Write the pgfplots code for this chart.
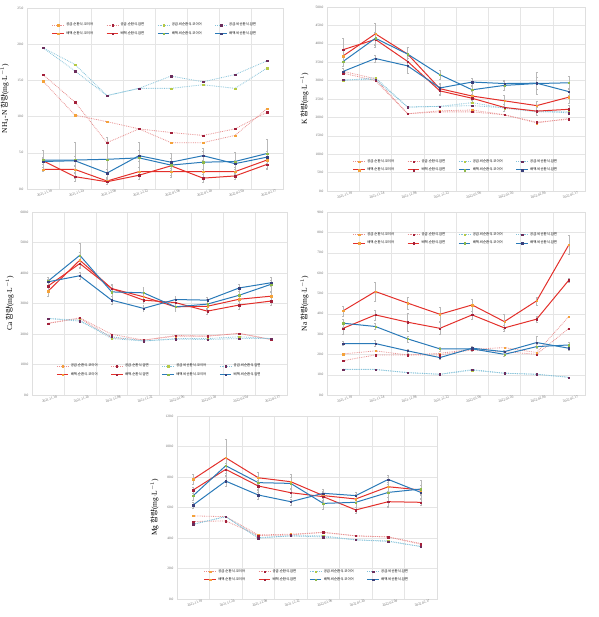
\documentclass[border=0pt]{standalone}
\usepackage{fontspec}
\setmainfont{Liberation Serif}
\newfontfamily\cjk{Noto Sans CJK KR}
\usepackage{pgfplots}
\pgfplotsset{compat=1.18}

\definecolor{cOrange}{HTML}{F4A23A}
\definecolor{cDark}{HTML}{A3203A}
\definecolor{cYG}{HTML}{B5C944}
\definecolor{cPur}{HTML}{6B2D5C}
\definecolor{cSalmon}{HTML}{E89090}
\definecolor{cLBlue}{HTML}{86C3DA}
\definecolor{cRed}{HTML}{E3302B}
\definecolor{cBlue}{HTML}{2A7AB8}
\definecolor{cGreen}{HTML}{8DB94A}
\definecolor{cNavy}{HTML}{3A3F7A}

\pgfplotsset{
  eb/.style={/pgfplots/error bars/y dir=both, /pgfplots/error bars/y explicit,
    /pgfplots/error bars/error bar style={gray!55, line width=0.3pt, solid},
    /pgfplots/error bars/error mark options={rotate=90, mark size=0.9pt, gray!55, line width=0.3pt}},
  s1/.style={cSalmon, densely dotted, line width=0.8pt, mark=square*, mark size=0.7pt, mark options={solid, line width=0.2pt, fill=cOrange, draw=cOrange}},
  s2/.style={cSalmon, densely dotted, line width=0.8pt, mark=square*, mark size=0.7pt, mark options={solid, line width=0.2pt, fill=cDark, draw=cDark}},
  s3/.style={cLBlue, densely dotted, line width=0.8pt, mark=square*, mark size=0.7pt, mark options={solid, line width=0.2pt, fill=cYG, draw=cYG}},
  s4/.style={cLBlue, densely dotted, line width=0.8pt, mark=square*, mark size=0.7pt, mark options={solid, line width=0.2pt, fill=cPur, draw=cPur}},
  d1/.style={cRed, solid, line width=1pt, mark=square*, mark size=0.7pt, mark options={solid, line width=0.2pt, fill=cOrange, draw=cOrange}, eb},
  d2/.style={cRed, solid, line width=1pt, mark=square*, mark size=0.7pt, mark options={solid, line width=0.2pt, fill=cDark, draw=cDark}, eb},
  d3/.style={cBlue, solid, line width=1pt, mark=square*, mark size=0.7pt, mark options={solid, line width=0.2pt, fill=cGreen, draw=cGreen}, eb},
  d4/.style={cBlue, solid, line width=1pt, mark=square*, mark size=0.7pt, mark options={solid, line width=0.2pt, fill=cNavy, draw=cNavy}, eb},
  panel/.style={
    scale only axis, anchor=south west,
    xmin=-0.5, xmax=7.5, ymin=0,
    xtick={0,...,7},
    xticklabels={2021.11.10,2021.11.24,2021.12.08,2021.12.22,2022.01.06,2022.01.20,2022.02.04,2022.02.17},
    minor xtick={-0.5,0.5,...,7.5},
    xminorgrids=true, ymajorgrids=true,
    grid style={gray!20, line width=0.3pt},
    minor grid style={gray!20, line width=0.3pt},
    axis line style={gray!25, line width=0.3pt},
    major tick length=0pt, minor tick length=0pt,
    tick label style={font=\fontsize{3.5}{4}\selectfont, text=gray!80!black},
    xticklabel style={rotate=20, anchor=center, yshift=-4.5pt},
    yticklabel style={/pgf/number format/.cd, fixed, fixed zerofill, precision=1},
    /pgf/number format/assume math mode=true,
    legend columns=4,
    legend cell align=left,
    legend image code/.code={\draw[mark repeat=2,mark phase=2] plot coordinates {(0cm,0cm) (0.2cm,0cm) (0.4cm,0cm)};},
    legend style={draw=none, fill=none, font=\cjk\fontsize{3.4}{4.4}\selectfont,
      /tikz/every even column/.append style={column sep=11pt}},
    ylabel style={font=\fontsize{7.5}{9}\selectfont, at={(axis description cs:-0.058,0.5)}, anchor=south},
  }
}
\newcommand{\leg}{\legend{공급.순환식.코이어,공급.순환식.암면,공급.비순환식.코이어,공급.비순환식.암면,배액.순환식.코이어,배액.순환식.암면,배액.비순환식.코이어,배액.비순환식.암면}}

\begin{document}
\begin{tikzpicture}
\useasboundingbox (0,0) rectangle (598pt,617pt);

% ---------- NH4-N ----------
\begin{axis}[panel, at={(27pt,428pt)}, width=256pt, height=181pt,
  ymax=25, ytick={0,5,...,25},
  ylabel={NH$_4$-N {\cjk 함량}(mg$\cdot$L$^{-1}$)},
  legend style={at={(0.5,0.94)}, anchor=north}]
\addplot[s1] coordinates {(0,14.9) (1,10.2) (2,9.3) (3,8.3) (4,6.4) (5,6.4) (6,7.4) (7,11.1)};
\addplot[s2] coordinates {(0,15.8) (1,12.0) (2,6.4) (3,8.3) (4,7.8) (5,7.4) (6,8.3) (7,10.6)};
\addplot[s3] coordinates {(0,19.5) (1,17.2) (2,12.9) (3,13.9) (4,13.9) (5,14.4) (6,13.9) (7,16.7)};
\addplot[s4] coordinates {(0,19.5) (1,16.3) (2,12.9) (3,13.9) (4,15.6) (5,14.8) (6,15.8) (7,17.7)};
\addplot[d1] coordinates {(0,2.7) +- (0,0.3) (1,2.7) +- (0,0.5) (2,1.1) +- (0,0.4) (3,2.4) +- (0,0.6) (4,2.4) +- (0,0.5) (5,2.4) +- (0,0.4) (6,2.4) +- (0,0.4) (7,4.0) +- (0,0.6)};
\addplot[d2] coordinates {(0,3.9) +- (0,0.5) (1,1.7) +- (0,0.6) (2,1.0) +- (0,0.4) (3,1.9) +- (0,0.5) (4,3.2) +- (0,0.6) (5,1.5) +- (0,0.5) (6,1.8) +- (0,0.4) (7,3.4) +- (0,0.6)};
\addplot[d3] coordinates {(0,4.0) +- (0,1.3) (1,4.0) +- (0,2.5) (2,4.1) +- (0,3.0) (3,4.3) +- (0,2.2) (4,3.3) +- (0,1.6) (5,3.7) +- (0,2.0) (6,3.8) +- (0,1.3) (7,4.9) +- (0,2.0)};
\addplot[d4] coordinates {(0,3.8) +- (0,0.4) (1,3.9) +- (0,0.6) (2,2.2) +- (0,0.5) (3,4.6) +- (0,0.7) (4,3.7) +- (0,0.6) (5,4.6) +- (0,0.6) (6,3.5) +- (0,0.5) (7,4.4) +- (0,0.8)};
\leg
\end{axis}

% ---------- K ----------
\begin{axis}[panel, at={(327pt,426pt)}, width=258pt, height=184pt,
  ymax=500, ytick={0,50,...,500},
  ylabel={K {\cjk 함량}(mg$\cdot$L$^{-1}$)},
  legend style={at={(0.5,0.08)}, anchor=south}]
\addplot[s1] coordinates {(0,325) (1,305) (2,210) (3,218) (4,220) (5,207) (6,185) (7,197)};
\addplot[s2] coordinates {(0,320) (1,300) (2,210) (3,215) (4,215) (5,207) (6,187) (7,195)};
\addplot[s3] coordinates {(0,300) (1,308) (2,228) (3,230) (4,240) (5,225) (6,215) (7,215)};
\addplot[s4] coordinates {(0,302) (1,303) (2,228) (3,230) (4,232) (5,226) (6,218) (7,212)};
\addplot[d1] coordinates {(0,367) +- (0,15) (1,427) +- (0,30) (2,372) +- (0,20) (3,278) +- (0,15) (4,258) +- (0,12) (5,245) +- (0,15) (6,232) +- (0,12) (7,255) +- (0,15)};
\addplot[d2] coordinates {(0,384) +- (0,30) (1,412) +- (0,20) (2,352) +- (0,15) (3,272) +- (0,12) (4,252) +- (0,10) (5,227) +- (0,10) (6,217) +- (0,10) (7,222) +- (0,12)};
\addplot[d3] coordinates {(0,352) +- (0,12) (1,415) +- (0,15) (2,372) +- (0,18) (3,316) +- (0,12) (4,275) +- (0,12) (5,287) +- (0,12) (6,292) +- (0,30) (7,294) +- (0,18)};
\addplot[d4] coordinates {(0,325) +- (0,8) (1,360) +- (0,10) (2,340) +- (0,20) (3,280) +- (0,10) (4,296) +- (0,10) (5,292) +- (0,8) (6,293) +- (0,15) (7,270) +- (0,10)};
\leg
\end{axis}

% ---------- Ca ----------
\begin{axis}[panel, at={(32pt,222pt)}, width=255pt, height=183pt,
  ymax=600, ytick={0,100,...,600},
  ylabel={Ca {\cjk 함량}(mg$\cdot$L$^{-1}$)},
  legend style={at={(0.5,0.077)}, anchor=south}]
\addplot[s1] coordinates {(0,235) (1,251) (2,188) (3,180) (4,193) (5,193) (6,202) (7,182)};
\addplot[s2] coordinates {(0,235) (1,253) (2,199) (3,180) (4,195) (5,193) (6,202) (7,182)};
\addplot[s3] coordinates {(0,251) (1,245) (2,185) (3,177) (4,185) (5,185) (6,191) (7,185)};
\addplot[s4] coordinates {(0,251) (1,242) (2,191) (3,177) (4,183) (5,182) (6,185) (7,185)};
\addplot[d1] coordinates {(0,340) +- (0,15) (1,442) +- (0,25) (2,349) +- (0,15) (3,322) +- (0,15) (4,289) +- (0,12) (5,291) +- (0,10) (6,314) +- (0,15) (7,324) +- (0,15)};
\addplot[d2] coordinates {(0,357) +- (0,12) (1,431) +- (0,15) (2,349) +- (0,12) (3,311) +- (0,10) (4,303) +- (0,10) (5,275) +- (0,10) (6,295) +- (0,12) (7,308) +- (0,12)};
\addplot[d3] coordinates {(0,373) +- (0,15) (1,458) +- (0,40) (2,338) +- (0,25) (3,335) +- (0,20) (4,289) +- (0,15) (5,298) +- (0,15) (6,327) +- (0,35) (7,363) +- (0,25)};
\addplot[d4] coordinates {(0,371) +- (0,10) (1,391) +- (0,12) (2,311) +- (0,12) (3,284) +- (0,10) (4,313) +- (0,10) (5,311) +- (0,10) (6,351) +- (0,12) (7,368) +- (0,10)};
\leg
\end{axis}

% ---------- Na ----------
\begin{axis}[panel, at={(327pt,222pt)}, width=258pt, height=183pt,
  ymax=90, ytick={0,10,...,90},
  ylabel={Na {\cjk 함량}(mg$\cdot$L$^{-1}$)},
  legend style={at={(0.5,0.91)}, anchor=north}]
\addplot[s1] coordinates {(0,20.2) (1,21.7) (2,19.7) (3,20.5) (4,22.5) (5,23.3) (6,20.9) (7,38.6)};
\addplot[s2] coordinates {(0,16.9) (1,19.7) (2,19.7) (3,19.7) (4,22.2) (5,21.3) (6,20.0) (7,32.8)};
\addplot[s3] coordinates {(0,12.6) (1,12.6) (2,11.0) (3,10.2) (4,12.2) (5,10.7) (6,10.2) (7,8.7)};
\addplot[s4] coordinates {(0,12.6) (1,12.5) (2,11.0) (3,10.2) (4,12.5) (5,10.7) (6,10.2) (7,8.7)};
\addplot[d1] coordinates {(0,41.4) +- (0,2.5) (1,50.9) +- (0,4.5) (2,45.2) +- (0,3) (3,39.7) +- (0,3.5) (4,44.3) +- (0,3) (5,36.1) +- (0,3.5) (6,46.3) +- (0,2) (7,73.9) +- (0,4.5)};
\addplot[d2] coordinates {(0,32.8) +- (0,3) (1,39.4) +- (0,2.5) (2,35.8) +- (0,4.5) (3,32.8) +- (0,3) (4,39.4) +- (0,2) (5,33.0) +- (0,1.5) (6,37.3) +- (0,1.5) (7,56.5) +- (0,1)};
\addplot[d3] coordinates {(0,35.3) +- (0,2) (1,33.7) +- (0,1.5) (2,27.6) +- (0,1.5) (3,22.7) +- (0,1) (4,22.7) +- (0,1) (5,20.0) +- (0,1) (6,23.8) +- (0,1) (7,24.6) +- (0,1.5)};
\addplot[d4] coordinates {(0,25.3) +- (0,1) (1,25.3) +- (0,1.5) (2,21.7) +- (0,1) (3,18.4) +- (0,1) (4,23.0) +- (0,1) (5,21.3) +- (0,1) (6,25.8) +- (0,3) (7,23.0) +- (0,1)};
\leg
\end{axis}

% ---------- Mg ----------
\begin{axis}[panel, at={(177pt,18pt)}, width=260pt, height=183pt,
  ymax=120, ytick={0,20,...,120},
  ylabel={Mg {\cjk 함량}(mg$\cdot$L$^{-1}$)},
  legend style={at={(0.5,0.07)}, anchor=south}]
\addplot[s1] coordinates {(0,54.5) (1,54.0) (2,42.0) (3,42.5) (4,43.6) (5,41.4) (6,40.7) (7,36.4)};
\addplot[s2] coordinates {(0,50.8) (1,51.2) (2,41.6) (3,42.0) (4,43.8) (5,41.4) (6,40.7) (7,35.9)};
\addplot[s3] coordinates {(0,49.0) (1,54.0) (2,40.3) (3,41.4) (4,41.4) (5,38.8) (6,38.1) (7,34.4)};
\addplot[s4] coordinates {(0,49.0) (1,54.0) (2,39.9) (3,41.4) (4,40.7) (5,38.8) (6,37.7) (7,34.4)};
\addplot[d1] coordinates {(0,78.6) +- (0,3) (1,92.6) +- (0,12) (2,79.5) +- (0,4) (3,76.9) +- (0,5) (4,67.8) +- (0,3) (5,65.6) +- (0,3) (6,73.6) +- (0,3) (7,71.5) +- (0,3)};
\addplot[d2] coordinates {(0,71.5) +- (0,2) (1,85.0) +- (0,4) (2,74.1) +- (0,4) (3,69.7) +- (0,3) (4,67.1) +- (0,3) (5,58.4) +- (0,2) (6,63.8) +- (0,3) (7,63.4) +- (0,2)};
\addplot[d3] coordinates {(0,67.8) +- (0,3) (1,87.4) +- (0,5) (2,76.3) +- (0,4) (3,75.8) +- (0,4) (4,62.7) +- (0,4) (5,63.4) +- (0,3) (6,69.9) +- (0,10) (7,72.1) +- (0,6)};
\addplot[d4] coordinates {(0,61.7) +- (0,2) (1,77.3) +- (0,3) (2,68.2) +- (0,3) (3,63.8) +- (0,2) (4,69.3) +- (0,3) (5,67.8) +- (0,2) (6,78.4) +- (0,3) (7,69.9) +- (0,2)};
\leg
\end{axis}
\end{tikzpicture}
\end{document}
